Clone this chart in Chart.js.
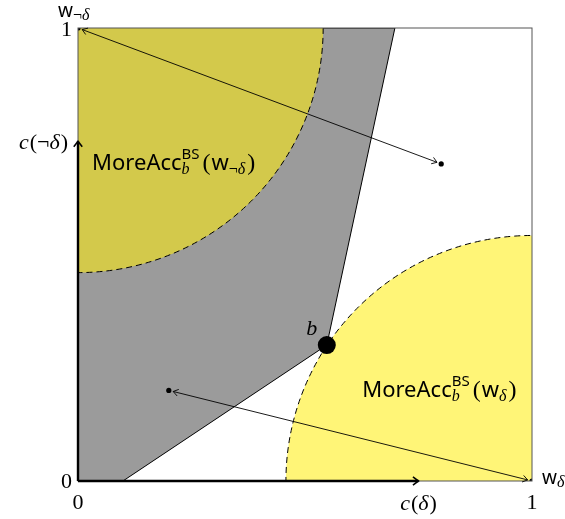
<!doctype html>
<html lang="en">
<head>
<meta charset="utf-8">
<title>MoreAcc regions</title>
<script src="https://cdn.jsdelivr.net/npm/chart.js@4"></script>
<style>body{margin:0;background:#fff}</style>
</head>
<body>
<canvas id="chart" width="565" height="519"></canvas>
<script>
// the two worlds, corners of the square
var worlds = [{x: 0, y: 1}, {x: 1, y: 0}];
// credence b and the two other credence points
var pointB = [{x: 0.548, y: 0.300}];
var otherPts = [{x: 0.2, y: 0.2}, {x: 0.8, y: 0.7}];
// grey region (closed polygon)
var greyRegion = [{x: 0, y: 0}, {x: 0, y: 1}, {x: 0.698, y: 1}, {x: 0.548, y: 0.300}, {x: 0.099, y: 0}, {x: 0, y: 0}];
// MoreAcc discs: centre world + radius
var discCentres = [{x: 0, y: 1}, {x: 1, y: 0}];
var discRadii = [0.54, 0.542];
// double headed arrows
var arrowFrom = [{x: 0.2, y: 0.2}, {x: 0.8, y: 0.7}];
var arrowTo = [{x: 1, y: 0}, {x: 0, y: 1}];
var axisArrowEnd = 0.75;
var tickVals = [0, 1];
var tickLabels = ['0', '1'];

var discColours = ['#d3c94b', '#fff577'];
var serif = '"Liberation Serif", "DejaVu Serif", serif';
var sans = '"Noto Sans", "Open Sans", sans-serif';

function head(ctx, x, y, ang, len, spread) {
  ctx.beginPath();
  ctx.moveTo(x - len * Math.cos(ang - spread), y - len * Math.sin(ang - spread));
  ctx.lineTo(x, y);
  ctx.lineTo(x - len * Math.cos(ang + spread), y - len * Math.sin(ang + spread));
  ctx.stroke();
}

// draw a row of text pieces; piece.over = stack with the next piece
function rich(ctx, x, y, parts, align) {
  var total = 0, i, pend = null;
  var widths = parts.map(function(p) { ctx.font = p.f; return ctx.measureText(p.t).width + (p.gap || 0); });
  for (i = 0; i < parts.length; i++) {
    if (parts[i].over) { pend = widths[i]; continue; }
    total += pend !== null ? Math.max(pend, widths[i]) : widths[i];
    pend = null;
  }
  var cx = align === 'right' ? x - total : (align === 'center' ? x - total / 2 : x);
  pend = null;
  ctx.textAlign = 'left';
  ctx.textBaseline = 'alphabetic';
  ctx.fillStyle = '#000';
  for (i = 0; i < parts.length; i++) {
    var p = parts[i];
    ctx.font = p.f;
    ctx.fillText(p.t, cx, y + (p.dy || 0));
    if (p.over) { pend = widths[i]; continue; }
    cx += pend !== null ? Math.max(pend, widths[i]) : widths[i];
    pend = null;
  }
}

var drawPlugin = {
  id: 'drawPlugin',
  afterDatasetDraw: function(chart, args) {
    if (args.index !== 0) return;
    var ctx = chart.ctx, xs = chart.scales.x, ys = chart.scales.y, a = chart.chartArea;
    ctx.save();
    ctx.beginPath();
    ctx.rect(a.left, a.top, a.right - a.left, a.bottom - a.top);
    ctx.clip();
    for (var i = 0; i < discCentres.length; i++) {
      var cx = xs.getPixelForValue(discCentres[i].x), cy = ys.getPixelForValue(discCentres[i].y);
      var rx = xs.getPixelForValue(discRadii[i]) - xs.getPixelForValue(0);
      var ry = ys.getPixelForValue(0) - ys.getPixelForValue(discRadii[i]);
      ctx.beginPath();
      ctx.ellipse(cx, cy, rx, ry, 0, 0, Math.PI * 2);
      ctx.fillStyle = discColours[i];
      ctx.fill();
      ctx.setLineDash([6, 4]);
      ctx.lineWidth = 1;
      ctx.strokeStyle = '#000';
      ctx.stroke();
      ctx.setLineDash([]);
    }
    ctx.restore();
  },
  afterDatasetsDraw: function(chart) {
    var ctx = chart.ctx, xs = chart.scales.x, ys = chart.scales.y, a = chart.chartArea;
    var X = function(v) { return xs.getPixelForValue(v); };
    var Y = function(v) { return ys.getPixelForValue(v); };
    ctx.save();
    // frame
    ctx.strokeStyle = '#555';
    ctx.lineWidth = 1;
    ctx.strokeRect(a.left, a.top, a.right - a.left, a.bottom - a.top);
    // axis arrows
    ctx.strokeStyle = '#000';
    ctx.lineWidth = 2.4;
    ctx.beginPath();
    ctx.moveTo(X(0), Y(0)); ctx.lineTo(X(axisArrowEnd), Y(0));
    ctx.moveTo(X(0), Y(0)); ctx.lineTo(X(0), Y(axisArrowEnd));
    ctx.stroke();
    ctx.lineWidth = 1.6;
    head(ctx, X(axisArrowEnd), Y(0), 0, 7, 0.65);
    head(ctx, X(0), Y(axisArrowEnd), -Math.PI / 2, 7, 0.65);
    // double headed arrows
    ctx.lineWidth = 0.9;
    for (var i = 0; i < arrowFrom.length; i++) {
      var x1 = X(arrowFrom[i].x), y1 = Y(arrowFrom[i].y), x2 = X(arrowTo[i].x), y2 = Y(arrowTo[i].y);
      var ang = Math.atan2(y2 - y1, x2 - x1), s = 4.5;
      x1 += s * Math.cos(ang); y1 += s * Math.sin(ang);
      x2 -= s * Math.cos(ang); y2 -= s * Math.sin(ang);
      ctx.beginPath(); ctx.moveTo(x1, y1); ctx.lineTo(x2, y2); ctx.stroke();
      head(ctx, x2, y2, ang, 6, 0.6);
      head(ctx, x1, y1, ang + Math.PI, 6, 0.6);
    }
    // labels
    var num = '22px ' + serif, it = 'italic 22px ' + serif;
    rich(ctx, X(tickVals[0]), Y(0) + 28, [{t: tickLabels[0], f: num}], 'center');
    rich(ctx, X(tickVals[1]), Y(0) + 28, [{t: tickLabels[1], f: num}], 'center');
    rich(ctx, X(0) - 6, Y(tickVals[0]) + 7, [{t: tickLabels[0], f: num}], 'right');
    rich(ctx, X(0) - 6, Y(tickVals[1]) + 8, [{t: tickLabels[1], f: num}], 'right');
    rich(ctx, X(axisArrowEnd), Y(0) + 29, [{t: 'c', f: it, gap: 1}, {t: '(', f: num}, {t: 'δ', f: it, gap: 1}, {t: ')', f: num}], 'center');
    rich(ctx, X(0) - 10, Y(axisArrowEnd) + 8, [{t: 'c', f: it, gap: 1}, {t: '(¬', f: num}, {t: 'δ', f: it, gap: 1}, {t: ')', f: num}], 'right');
    var w = '19px ' + sans, sub = 'italic 16px ' + serif, subn = '16px ' + serif;
    rich(ctx, X(0) - 20, Y(1) - 11, [{t: 'w', f: w}, {t: '¬', f: subn, dy: 3}, {t: 'δ', f: sub, dy: 3}], 'left');
    rich(ctx, X(1) + 10, Y(0) + 3, [{t: 'w', f: w}, {t: 'δ', f: sub, dy: 3}], 'left');
    rich(ctx, X(pointB[0].x) - 15, Y(pointB[0].y) - 10, [{t: 'b', f: 'italic 22px ' + serif}], 'center');
    var big = '22px ' + sans, par = '24px ' + serif, sup = '15px ' + sans, bsub = 'italic 16px ' + serif;
    rich(ctx, X(0.031), Y(0.687), [{t: 'MoreAcc', f: big}, {t: 'BS', f: sup, dy: -11, over: true, gap: 3}, {t: 'b', f: bsub, dy: 4},
      {t: '(', f: par, gap: 1}, {t: 'w', f: big}, {t: '¬', f: subn, dy: 4}, {t: 'δ', f: sub, dy: 4, gap: 2}, {t: ')', f: par}], 'left');
    rich(ctx, X(0.626), Y(0.185), [{t: 'MoreAcc', f: big}, {t: 'BS', f: sup, dy: -11, over: true, gap: 3}, {t: 'b', f: bsub, dy: 4},
      {t: '(', f: par, gap: 1}, {t: 'w', f: big}, {t: 'δ', f: sub, dy: 4, gap: 2}, {t: ')', f: par}], 'left');
    ctx.restore();
  }
};

var ctx = document.getElementById('chart').getContext('2d');
var chart = new Chart(ctx, {
  type: 'scatter',
  data: {
    datasets: [
      {data: greyRegion, showLine: true, fill: 'shape', backgroundColor: '#9b9b9b', borderColor: '#000',
       borderWidth: 1, pointRadius: 0, tension: 0, order: 10},
      {data: otherPts, pointRadius: 2.6, backgroundColor: '#000', borderWidth: 0, order: 1},
      {data: worlds, pointRadius: 2.6, backgroundColor: '#000', borderWidth: 0, order: 1},
      {data: pointB, pointRadius: 9, backgroundColor: '#000', borderWidth: 0, order: 1}
    ]
  },
  options: {
    responsive: false,
    animation: false,
    events: [],
    layout: {padding: {left: 78, right: 33, top: 28, bottom: 38}},
    scales: {
      x: {type: 'linear', min: 0, max: 1, display: false},
      y: {type: 'linear', min: 0, max: 1, display: false}
    },
    plugins: {legend: {display: false}, tooltip: {enabled: false}}
  },
  plugins: [drawPlugin]
});
</script>
</body>
</html>
